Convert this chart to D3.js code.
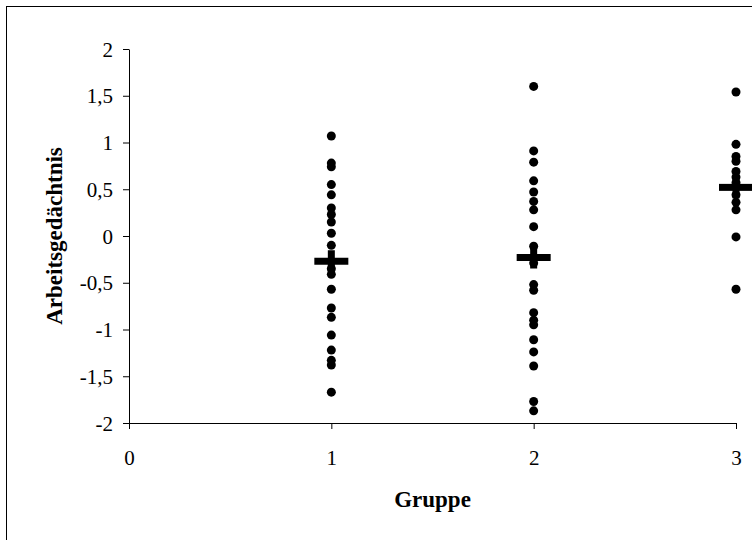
<!DOCTYPE html>
<html>
<head>
<meta charset="utf-8">
<script src="https://cdn.jsdelivr.net/npm/d3@7/dist/d3.min.js"></script>
<style>
  html, body { margin: 0; padding: 0; background: #fff; }
  svg { display: block; }
</style>
</head>
<body>
<svg id="chart" width="752" height="540"></svg>
<script>
// ---- data ----
const groups = [1, 2, 3];
const group1 = [1.07, 0.78, 0.74, 0.55, 0.44, 0.30, 0.23, 0.15, 0.03, -0.10,
                -0.35, -0.41, -0.57, -0.77, -0.87, -1.06, -1.22, -1.33, -1.38, -1.67];
const group2 = [1.60, 0.91, 0.79, 0.59, 0.47, 0.37, 0.28, 0.10, -0.11, -0.29,
                -0.52, -0.58, -0.82, -0.90, -0.95, -1.11, -1.24, -1.39, -1.77, -1.87];
const group3 = [1.54, 0.98, 0.85, 0.80, 0.69, 0.63, 0.57, 0.44, 0.36, 0.28, -0.01, -0.57];
const means = [-0.27, -0.23, 0.52];
const xTicks = [0, 1, 2, 3];
const yTicks = [-2, -1.5, -1, -0.5, 0, 0.5, 1, 1.5, 2];
const xTitle = "Gruppe";
const yTitle = "Arbeitsgedächtnis";

const svg = d3.select("#chart");
const FONT = "'Liberation Serif', 'DejaVu Serif', serif";

// outer frame
svg.append("rect")
  .attr("x", 6.5).attr("y", 6.5)
  .attr("width", 800).attr("height", 600)
  .attr("fill", "none").attr("stroke", "#000").attr("stroke-width", 1);

const x = d3.scaleLinear().domain([0, 3]).range([129, 736]);
const y = d3.scaleLinear().domain([-2, 2]).range([423, 49]);

const fmt = d => String(d).replace(".", ",");

// y axis
const gy = svg.append("g")
  .attr("transform", `translate(${x(0)},0)`)
  .call(d3.axisLeft(y).tickValues(yTicks).tickSize(6).tickSizeOuter(0).tickPadding(10).tickFormat(fmt));
gy.selectAll("text").attr("font-family", FONT).attr("font-size", 21).attr("fill", "#000").attr("dy", "0.34em");

// x axis
const gx = svg.append("g")
  .attr("transform", `translate(0,${y(-2)})`)
  .call(d3.axisBottom(x).tickValues(xTicks).tickSize(6).tickSizeOuter(0).tickFormat(d3.format("d")));
gx.selectAll("text").attr("font-family", FONT).attr("font-size", 21).attr("fill", "#000")
  .attr("y", 42).attr("dy", 0);

svg.selectAll(".domain, .tick line").attr("stroke", "#000").attr("stroke-width", 1);

// points
const allPts = [];
[group1, group2, group3].forEach((arr, i) => arr.forEach(v => allPts.push({g: groups[i], v})));
svg.append("g").selectAll("circle").data(allPts).join("circle")
  .attr("cx", d => x(d.g)).attr("cy", d => y(d.v)).attr("r", 4.5).attr("fill", "#000");

// mean crosses
const mg = svg.append("g").selectAll("g").data(means.map((m, i) => ({g: groups[i], v: m}))).join("g")
  .attr("transform", d => `translate(${x(d.g)},${y(d.v)})`);
mg.append("rect").attr("x", -17).attr("y", -3.5).attr("width", 34).attr("height", 7).attr("fill", "#000");
mg.append("rect").attr("x", -3.5).attr("y", -11).attr("width", 7).attr("height", 22).attr("fill", "#000");

// titles
svg.append("text")
  .attr("x", (x(0) + x(3)) / 2).attr("y", 507)
  .attr("text-anchor", "middle").attr("font-family", FONT).attr("font-weight", "bold")
  .attr("font-size", 23).text(xTitle);
svg.append("text")
  .attr("transform", `translate(62,${(y(-2) + y(2)) / 2}) rotate(-90)`)
  .attr("text-anchor", "middle").attr("font-family", FONT).attr("font-weight", "bold")
  .attr("font-size", 23).text(yTitle);
</script>
</body>
</html>
